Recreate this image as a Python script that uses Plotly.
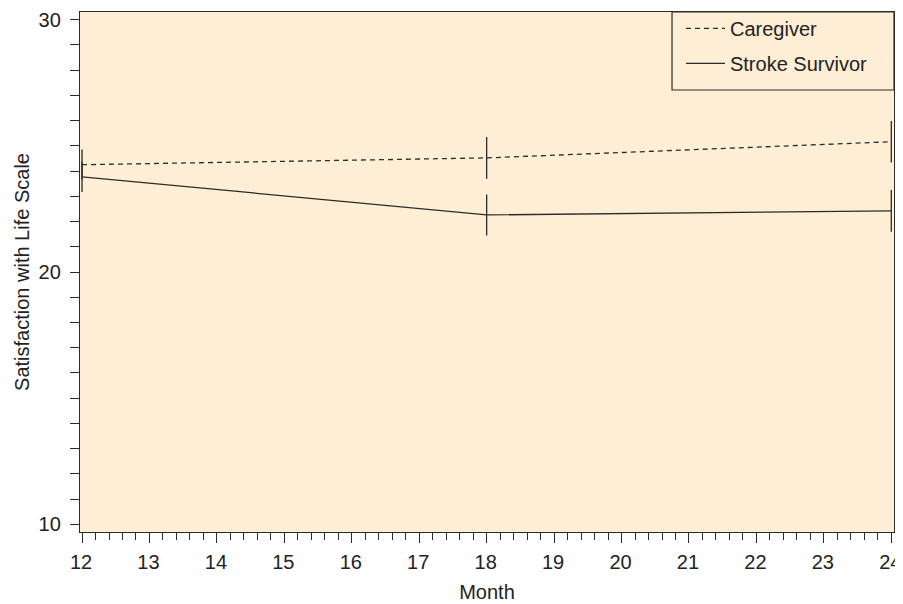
import plotly.graph_objects as go

months = [12, 18, 24]
caregiver = [24.25, 24.52, 25.16]
caregiver_err = [0.6, 0.83, 0.82]
survivor = [23.77, 22.26, 22.42]
survivor_err = [0.6, 0.81, 0.83]

ink = "#2b2b2b"
bg = "#FDEED5"

fig = go.Figure()
fig.add_trace(go.Scatter(
    x=months, y=caregiver, name="Caregiver", mode="lines", legendgroup="a",
    line=dict(color=ink, width=1.3, dash="5px,4px"),
    error_y=dict(type="data", array=caregiver_err, visible=True, width=0, thickness=1.3, color=ink),
))
fig.add_trace(go.Scatter(
    x=months, y=survivor, name="Stroke Survivor", mode="lines", legendgroup="b",
    line=dict(color=ink, width=1.3),
    error_y=dict(type="data", array=survivor_err, visible=True, width=0, thickness=1.3, color=ink),
))

# legend frame
fig.add_shape(type="rect", xref="paper", yref="paper", x0=0.7273, x1=1, y0=0.85, y1=1,
              line=dict(color=ink, width=1.2), fillcolor=bg, layer="above")

fig.update_layout(
    width=895, height=596,
    margin=dict(l=72, r=9, t=4, b=72, autoexpand=False),
    paper_bgcolor="white", plot_bgcolor=bg,
    font=dict(family="Liberation Sans, Arial, sans-serif", size=20, color="#222"),
    showlegend=True,
    legend=dict(x=0.7383, y=1.006, xanchor="left", yanchor="top", bgcolor="rgba(0,0,0,0)",
                borderwidth=0, font=dict(size=20), itemwidth=39,
                tracegroupgap=6),
    xaxis=dict(range=[11.97, 24.04], tickmode="linear", tick0=12, dtick=1, automargin=False,
               showgrid=False, zeroline=False, showline=True, linecolor=ink, linewidth=1.3,
               ticks="outside", ticklen=10, tickcolor=ink, tickwidth=1.3,
               tickfont=dict(size=20), ticklabeloverflow="allow", ticklabelstandoff=2,
               ticklabelshift=-1,
               minor=dict(dtick=0.2, tick0=12, ticks="outside", ticklen=7, tickcolor=ink, tickwidth=1.1, showgrid=False),
               mirror=True,
               title=dict(text="Month", font=dict(size=20), standoff=12)),
    yaxis=dict(range=[9.7, 30.3], tickmode="linear", tick0=10, dtick=10, automargin=False,
               showgrid=False, zeroline=False, showline=True, linecolor=ink, linewidth=1.3,
               ticks="outside", ticklen=9, tickcolor=ink, tickwidth=1.3,
               tickfont=dict(size=20), ticklabelstandoff=5,
               minor=dict(dtick=1, tick0=10, ticks="outside", ticklen=9, tickcolor=ink, tickwidth=1.3, showgrid=False),
               mirror=True,
               title=dict(text="Satisfaction with Life Scale", font=dict(size=20), standoff=3)),
)

fig.write_html("out.html")
